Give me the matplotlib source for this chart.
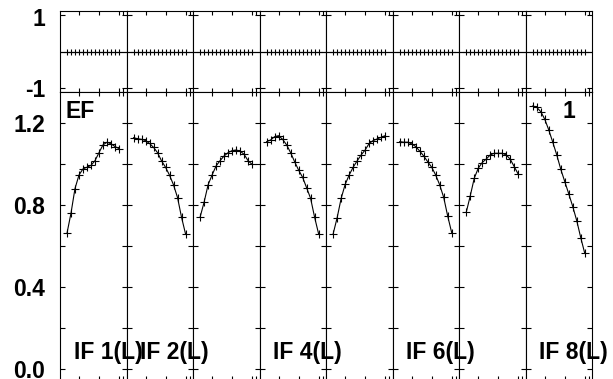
import matplotlib
matplotlib.use("Agg")
import matplotlib.pyplot as plt

# ---- data ----
channels = [2, 3, 4, 5, 6, 7, 8, 9, 10, 11, 12, 13, 14, 15]
if_labels = ["IF 1(L)", "IF 2(L)", "", "IF 4(L)", "", "IF 6(L)", "", "IF 8(L)"]
ef_if1 = [0.662, 0.760, 0.880, 0.946, 0.976, 0.984, 0.993, 1.016, 1.055, 1.093, 1.106, 1.098, 1.085, 1.075]
ef_if2 = [1.128, 1.123, 1.120, 1.114, 1.100, 1.081, 1.055, 1.015, 0.984, 0.945, 0.898, 0.836, 0.740, 0.659]
ef_if3 = [0.740, 0.813, 0.898, 0.946, 0.990, 1.016, 1.039, 1.055, 1.065, 1.068, 1.063, 1.047, 1.016, 0.998]
ef_if4 = [1.109, 1.117, 1.133, 1.138, 1.120, 1.093, 1.055, 1.011, 0.970, 0.935, 0.884, 0.832, 0.740, 0.659]
ef_if5 = [0.659, 0.738, 0.832, 0.900, 0.946, 0.984, 1.015, 1.044, 1.068, 1.100, 1.114, 1.122, 1.130, 1.138]
ef_if6 = [1.109, 1.106, 1.106, 1.098, 1.085, 1.063, 1.039, 1.011, 0.984, 0.946, 0.898, 0.837, 0.746, 0.665]
ef_if7 = [0.764, 0.844, 0.930, 0.979, 1.007, 1.024, 1.044, 1.052, 1.052, 1.052, 1.044, 1.023, 0.987, 0.950]
ef_if8 = [1.283, 1.276, 1.255, 1.218, 1.166, 1.106, 1.044, 0.974, 0.914, 0.854, 0.792, 0.723, 0.640, 0.564]
ef_series = [ef_if1, ef_if2, ef_if3, ef_if4, ef_if5, ef_if6, ef_if7, ef_if8]
residuals = [0.0, 0.0, 0.0, 0.0, 0.0, 0.0, 0.0, 0.0, 0.0, 0.0, 0.0, 0.0, 0.0, 0.0]
x_ticks = [5, 10, 15, 16]
ef_ticks = [0.0, 0.2, 0.4, 0.6, 0.8, 1.0, 1.2]
ef_ticklabels = ["0.0", "", "0.4", "", "0.8", "", "1.2"]
res_ticks = [-1, 0, 1]

plt.rcParams["font.family"] = ["Liberation Sans", "DejaVu Sans"]
plt.rcParams["font.weight"] = "bold"
plt.rcParams["font.size"] = 16.5

W, H = 613, 379
fig = plt.figure(figsize=(W / 100, H / 100), dpi=100)

x0, pw = 60.0, 66.54
top_y0, top_y1 = 11.0, 92.0
bot_y0, bot_y1 = 92.0, 380.0

def px_rect(left, top, width, height):
    return [left / W, 1 - (top + height) / H, width / W, height / H]

for i in range(8):
    left = x0 + i * pw
    # residual panel
    axr = fig.add_axes(px_rect(left, top_y0, pw, top_y1 - top_y0))
    axr.axhline(0, color="k", lw=0.8)
    axr.plot(channels, residuals, "+", color="k", ms=5, mew=0.8)
    axr.set_xlim(0.25, 16.89)
    axr.set_ylim(-1.1, 1.1)
    axr.set_xticks(x_ticks)
    axr.set_yticks(res_ticks)
    axr.set_xticklabels([])
    axr.set_yticklabels([])
    axr.tick_params(axis="x", direction="in", top=True, bottom=True, length=2.8, width=0.8)
    axr.tick_params(axis="y", direction="in", left=True, right=True, length=3.6, width=0.8)
    for s in axr.spines.values():
        s.set_linewidth(0.8)

    # EF panel
    axb = fig.add_axes(px_rect(left, bot_y0, pw, bot_y1 - bot_y0))
    axb.plot(channels, ef_series[i], "-+", color="k", lw=0.8, ms=6, mew=0.8)
    axb.set_xlim(0.25, 16.89)
    axb.set_ylim(-0.054, 1.351)
    axb.set_xticks(x_ticks)
    axb.set_xticklabels([])
    axb.set_yticks(ef_ticks)
    if i == 0:
        axb.set_yticklabels(ef_ticklabels)
    else:
        axb.set_yticklabels([])
    axb.tick_params(axis="x", direction="in", top=True, bottom=True, length=2.8, width=0.8)
    axb.tick_params(axis="y", direction="in", left=True, right=True, length=3.6, width=0.8,
                    pad=10.8)
    for s in axb.spines.values():
        s.set_linewidth(0.8)

    if if_labels[i]:
        fig.text((left + 13.5) / W, 1 - 358.5 / H, if_labels[i],
                 ha="left", va="baseline", fontweight="bold")

# residual axis labels
fig.text(45 / W, 1 - 26 / H, "1", ha="right", va="baseline", fontweight="bold")
fig.text(45 / W, 1 - 97 / H, "-1", ha="right", va="baseline", fontweight="bold")

# panel annotations
fig.text(65.5 / W, 1 - 118.5 / H, "EF", ha="left", va="baseline", fontweight="bold")
fig.text(569 / W, 1 - 118.5 / H, "1", ha="center", va="baseline", fontweight="bold")

fig.savefig("out.png", dpi=100)
